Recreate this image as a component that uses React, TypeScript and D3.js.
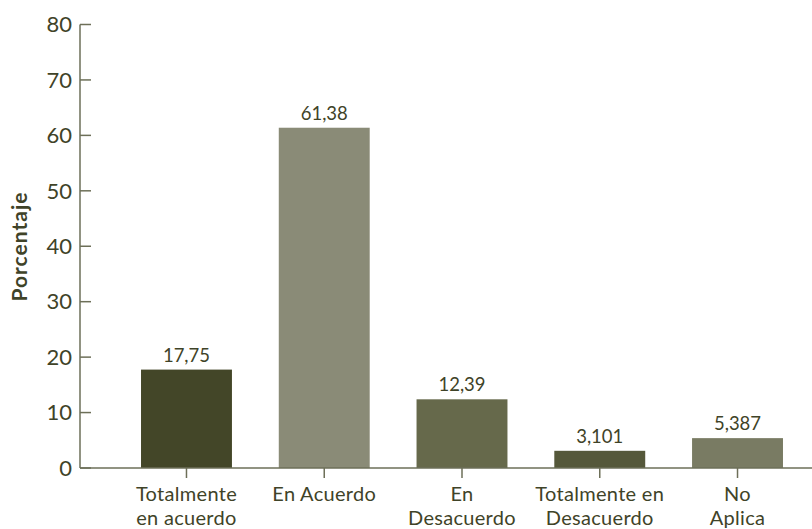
import React from "react";
import * as d3 from "d3";

const categories: string[][] = [
  ["Totalmente", "en acuerdo"],
  ["En Acuerdo"],
  ["En", "Desacuerdo"],
  ["Totalmente en", "Desacuerdo"],
  ["No", "Aplica"],
];
const values: number[] = [17.75, 61.38, 12.39, 3.101, 5.387];
const valueLabels: string[] = ["17,75", "61,38", "12,39", "3,101", "5,387"];
const barColors: string[] = ["#434628", "#8a8b77", "#66694b", "#55583a", "#797b63"];
const yTicks: number[] = [0, 10, 20, 30, 40, 50, 60, 70, 80];
const yTitle = "Porcentaje";

const W = 812;
const H = 529;
const textColor = "#3f4328";
const axisColor = "#6d6f58";
const font = "Lato, 'Open Sans', sans-serif";

export default function App() {
  const y = d3.scaleLinear().domain([0, 80]).range([468, 24.5]);
  const x = d3
    .scaleBand<number>()
    .domain(values.map((_, i) => i))
    .range([117.6, 806.4])
    .paddingInner(0.34)
    .paddingOuter(0.17);
  const axisX = 80;
  return (
    <svg
      width={W}
      height={H}
      style={{ position: "absolute", left: 0, top: 0, display: "block", background: "#fff" }}
      fontFamily={font}
    >
      {values.map((v, i) => (
        <g key={i}>
          <rect
            x={x(i)!}
            y={y(v)}
            width={x.bandwidth()}
            height={y(0) - y(v)}
            fill={barColors[i]}
          />
          <text
            x={x(i)! + x.bandwidth() / 2}
            y={y(v) - 8}
            textAnchor="middle"
            fontSize={18.5}
            fill={textColor}
          >
            {valueLabels[i]}
          </text>
        </g>
      ))}
      {/* y axis */}
      <line x1={axisX} x2={axisX} y1={y(80)} y2={y(0)} stroke={axisColor} strokeWidth={1.5} />
      {yTicks.map((t) => (
        <g key={t}>
          <line x1={axisX} x2={axisX + 11} y1={y(t)} y2={y(t)} stroke={axisColor} strokeWidth={1.5} />
          <text
            x={axisX - 8}
            y={y(t)}
            dy="0.35em"
            textAnchor="end"
            fontSize={22}
            fill={textColor}
          >
            {t}
          </text>
        </g>
      ))}
      {/* x axis */}
      <line x1={axisX} x2={W} y1={y(0)} y2={y(0)} stroke={axisColor} strokeWidth={1.5} />
      {categories.map((lines, i) => {
        const cx = x(i)! + x.bandwidth() / 2;
        return (
          <g key={i}>
            <line x1={cx} x2={cx} y1={y(0)} y2={y(0) + 10} stroke={axisColor} strokeWidth={1.5} />
            {lines.map((l, j) => (
              <text
                key={j}
                x={cx}
                y={501 + j * 24}
                textAnchor="middle"
                fontSize={20}
                letterSpacing={0.3}
                fill={textColor}
              >
                {l}
              </text>
            ))}
          </g>
        );
      })}
      <text
        transform={`translate(27, 246.5) rotate(-90)`}
        textAnchor="middle"
        fontSize={21}
        fontWeight="bold"
        letterSpacing={1}
        fill={textColor}
      >
        {yTitle}
      </text>
    </svg>
  );
}
